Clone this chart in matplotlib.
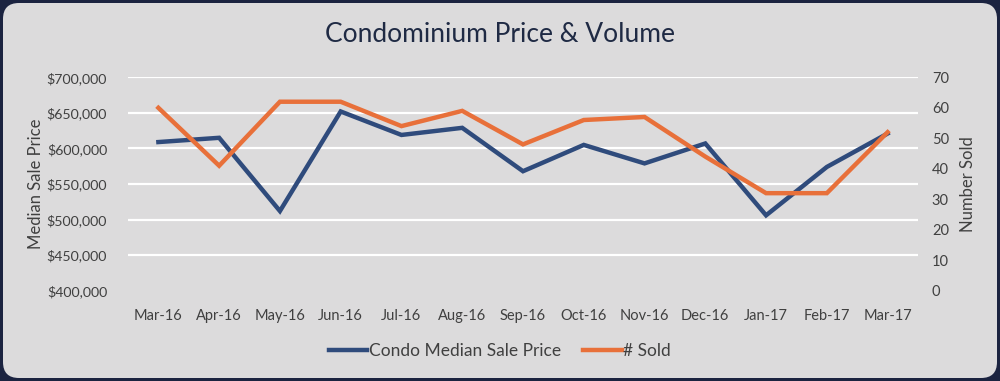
import matplotlib
matplotlib.use("Agg")
import matplotlib.pyplot as plt
from matplotlib.patches import FancyBboxPatch
from matplotlib.ticker import FuncFormatter, MultipleLocator

months = ["Mar-16", "Apr-16", "May-16", "Jun-16", "Jul-16", "Aug-16", "Sep-16",
          "Oct-16", "Nov-16", "Dec-16", "Jan-17", "Feb-17", "Mar-17"]
median_price = [609000, 615000, 512000, 652000, 619000, 629000, 568000,
                605000, 579000, 607000, 506000, 574000, 621000]
num_sold = [60, 41, 62, 62, 54, 59, 48, 56, 57, 44, 32, 32, 52]

price_label = "Condo Median Sale Price"
sold_label = "# Sold"

plt.rcParams['font.family'] = ['Lato', 'DejaVu Sans']

BLUE = "#2f4b7c"
ORANGE = "#e8703a"
BG = "#dcdbdc"
FRAME = "#1b2340"
TXT = "#404040"

fig = plt.figure(figsize=(10, 3.81), dpi=100)
fig.patch.set_facecolor(FRAME)
W, H = 1000, 381
box = FancyBboxPatch((3 / W, 3 / H), 994 / W, 375 / H,
                     boxstyle="round,pad=0,rounding_size=0.016",
                     transform=fig.transFigure, facecolor=BG, edgecolor="none",
                     mutation_aspect=W / H, zorder=-10)
fig.patches.append(box)

ax = fig.add_axes([0.128, 0.237, 0.79, 0.56])
ax.set_facecolor("none")
x = list(range(len(months)))

ax.set_ylim(400000, 700000)
ax.yaxis.set_major_locator(MultipleLocator(50000))
ax.yaxis.set_major_formatter(FuncFormatter(lambda v, p: "${:,.0f}".format(v)))
ax.set_xlim(-0.5, len(months) - 0.5)
ax.set_xticks(x)
ax.set_xticklabels(months)
for v in range(450000, 700001, 50000):
    ax.axhline(v, color="white", lw=1.6, zorder=1)
for s in ax.spines.values():
    s.set_visible(False)
ax.tick_params(axis="both", length=0, colors=TXT)
ax.tick_params(axis="y", pad=15, labelsize=10.2)
ax.tick_params(axis="x", pad=13, labelsize=10.5)
ax.set_ylabel("Median Sale Price", fontsize=12, color=TXT)
ax.yaxis.set_label_coords(-0.106, 0.5)

ax2 = ax.twinx()
ax2.set_ylim(0, 70)
ax2.yaxis.set_major_locator(MultipleLocator(10))
for s in ax2.spines.values():
    s.set_visible(False)
ax2.tick_params(axis="y", length=0, colors=TXT, labelsize=10.5, pad=10)
ax2.set_ylabel("Number Sold", fontsize=12, color=TXT, rotation=90)
ax2.yaxis.set_label_coords(1.053, 0.5)

l1, = ax.plot(x, median_price, color=BLUE, lw=3.2, zorder=3,
              solid_joinstyle="miter", label=price_label)
l2, = ax2.plot(x, num_sold, color=ORANGE, lw=3.2, zorder=3,
               solid_joinstyle="miter", label=sold_label)

fig.text(0.5, 1 - 35 / H, "Condominium Price & Volume", ha="center", va="center",
         fontsize=19, color="#1f2a44")

leg = fig.legend([l1, l2], [price_label, sold_label], loc="center",
                 bbox_to_anchor=(0.5, 1 - 351 / H), ncol=2, frameon=False,
                 fontsize=12.5, handlelength=2.2, handletextpad=0.1,
                 columnspacing=1.3, labelcolor=TXT)

fig.savefig("out.png", dpi=100, facecolor=FRAME)
